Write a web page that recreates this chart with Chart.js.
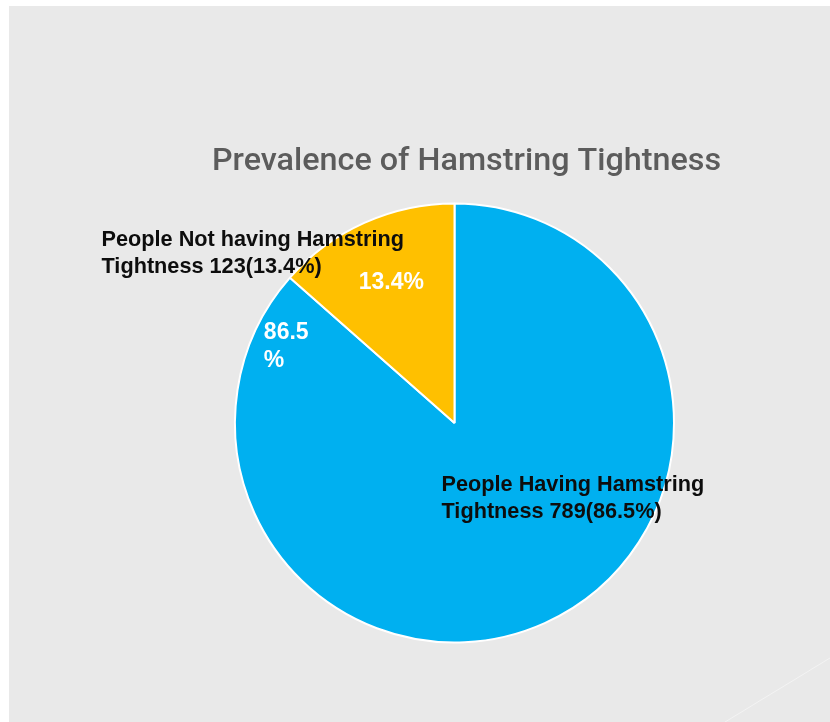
<!DOCTYPE html>
<html>
<head>
<meta charset="utf-8">
<script src="https://cdn.jsdelivr.net/npm/chart.js@4"></script>
<style>
  html, body { margin: 0; padding: 0; background: #ffffff; }
  #slide { position: absolute; left: 9px; top: 6px; width: 821px; height: 716px; background: #e9e9e9; }
  #pie { position: absolute; left: 0; top: 0; }
</style>
</head>
<body>
<div id="slide"></div>
<canvas id="pie" width="830" height="722"></canvas>
<script>
const chartTitle = 'Prevalence of Hamstring Tightness';
const categories = ['People Having Hamstring Tightness', 'People Not having Hamstring Tightness'];
const counts = [789, 123];
const percents = [86.5, 13.4];
const sliceColors = ['#00b0f0', '#ffc000'];

// outside label lines, built from the arrays above
const outsideLines = [
    ['People Having Hamstring', 'Tightness ' + counts[0] + '(' + percents[0] + '%)'],
    ['People Not having Hamstring', 'Tightness ' + counts[1] + '(' + percents[1] + '%)']
];

const labelPlugin = {
    id: 'sliceLabels',
    afterDraw(chart) {
        const ctx = chart.ctx;
        const arcs = chart.getDatasetMeta(0).data;
        const cx = arcs[0].x, cy = arcs[0].y, R = arcs[0].outerRadius;

        ctx.save();
        // title (slightly wide, like the slide)
        ctx.fillStyle = '#5c5c5c';
        ctx.font = '500 30.5px Roboto';
        ctx.textAlign = 'center';
        ctx.textBaseline = 'alphabetic';
        ctx.save();
        ctx.translate(cx + 12, cy - 253);
        ctx.scale(1.06, 1);
        ctx.fillText(chartTitle, 0, 0);
        ctx.restore();

        ctx.font = 'bold 23px "Liberation Sans", Arial';

        // percent inside the small slice
        const a1 = (arcs[1].startAngle + arcs[1].endAngle) / 2;
        ctx.fillStyle = '#ffffff';
        ctx.textAlign = 'center';
        ctx.textBaseline = 'middle';
        ctx.fillText(percents[1] + '%', cx + Math.cos(a1) * R * 0.7, cy + Math.sin(a1) * R * 0.7);

        // percent inside the big slice, wrapped near the boundary
        const a0 = arcs[0].endAngle - 17 * Math.PI / 180;
        const px = cx + Math.cos(a0) * R * 0.842;
        const py = cy + Math.sin(a0) * R * 0.842;
        const first = String(percents[0]);
        const left = px - ctx.measureText(first).width / 2;
        ctx.textAlign = 'left';
        ctx.fillText(first, left, py - 14);
        ctx.fillText('%', left, py + 14);

        // outside category labels
        ctx.font = 'bold 21.7px "Liberation Sans", Arial';
        ctx.fillStyle = '#0d0d0d';
        ctx.textBaseline = 'alphabetic';
        const spots = [[cx - 13, cy + 68], [cx - 353, cy - 177]];
        outsideLines.forEach((lines, i) => {
            lines.forEach((t, j) => ctx.fillText(t, spots[i][0], spots[i][1] + j * 27));
        });

        // faint slide decoration, bottom right
        ctx.strokeStyle = '#f3f3f3';
        ctx.lineWidth = 1;
        ctx.beginPath();
        ctx.moveTo(830, 658);
        ctx.lineTo(725, 722);
        ctx.stroke();
        ctx.restore();
    }
};

new Chart(document.getElementById('pie'), {
    type: 'pie',
    data: {
        labels: categories,
        datasets: [{
            data: counts,
            backgroundColor: sliceColors,
            borderColor: '#ffffff',
            borderWidth: 2,
            hoverOffset: 0
        }]
    },
    options: {
        responsive: false,
        animation: false,
        events: [],
        layout: { padding: { left: 234, right: 155, top: 202, bottom: 78 } },
        plugins: {
            legend: { display: false },
            tooltip: { enabled: false },
            title: { display: false }
        }
    },
    plugins: [labelPlugin]
});
</script>
</body>
</html>
